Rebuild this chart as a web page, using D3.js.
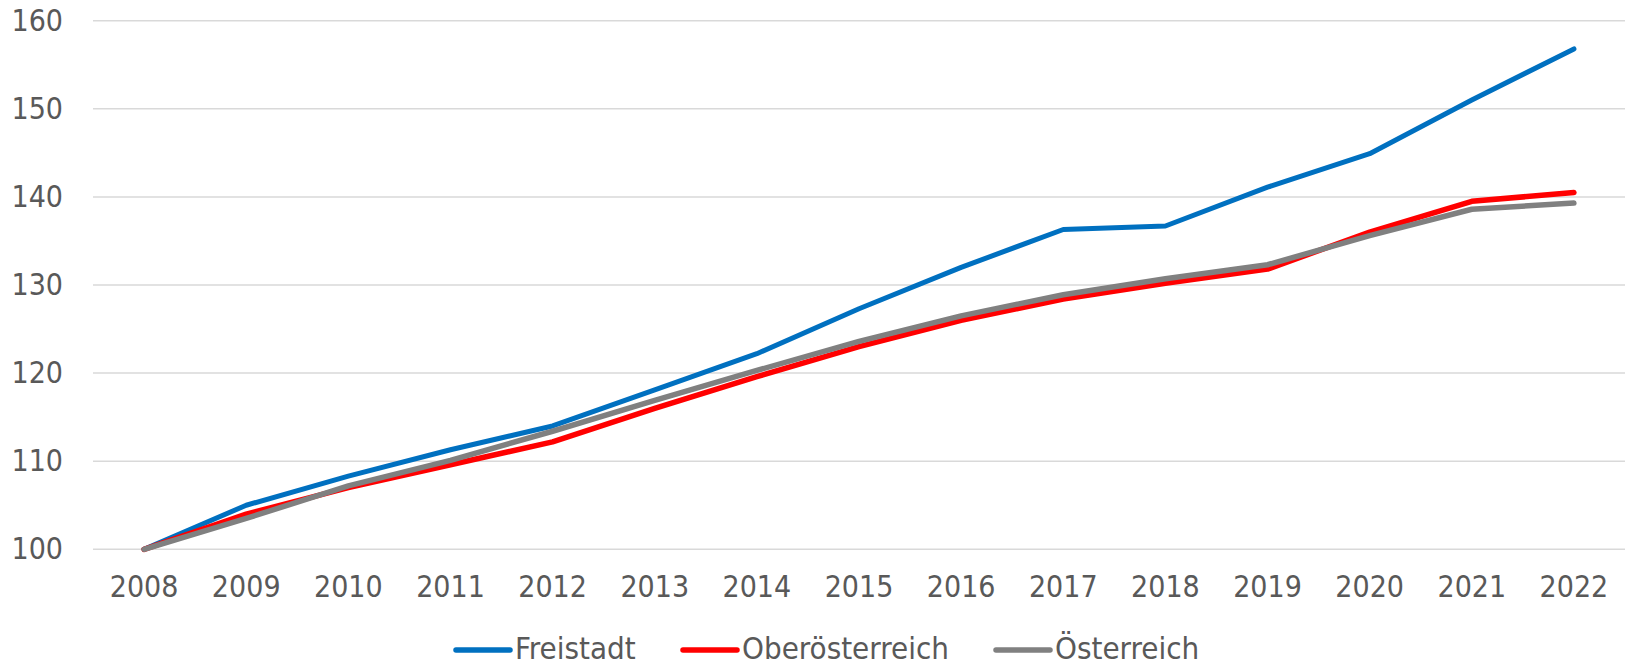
<!DOCTYPE html>
<html>
<head>
<meta charset="utf-8">
<script src="https://cdn.jsdelivr.net/npm/d3@7"></script>
<style>
  body { margin: 0; background: #fff; }
  text { font-family: "DejaVu Sans Condensed", "DejaVu Sans", sans-serif; fill: #595959; }
</style>
</head>
<body>
<div id="plot1"></div>
<script>
// chart data
var years = ['2008','2009','2010','2011','2012','2013','2014','2015','2016','2017','2018','2019','2020','2021','2022'];
var freistadt = [100, 105.0, 108.3, 111.3, 114.0, 118.1, 122.2, 127.3, 132.0, 136.3, 136.7, 141.1, 144.9, 151.0, 156.8];
var oberoesterreich = [100, 104.0, 107.0, 109.6, 112.2, 116.0, 119.6, 123.0, 126.0, 128.4, 130.2, 131.8, 136.0, 139.5, 140.5];
var oesterreich = [100, 103.5, 107.2, 110.1, 113.4, 116.9, 120.3, 123.6, 126.5, 128.9, 130.7, 132.3, 135.6, 138.6, 139.3];
var seriesNames = ['Freistadt', 'Oberösterreich', 'Österreich'];
var seriesColors = ['#0070C0', '#FF0000', '#808080'];
var yTicks = [100, 110, 120, 130, 140, 150, 160];

var width1 = 1626;
var height1 = 666;

// plot area edges (window.top is reserved, so no plain "top")
var plotLeft = 93, plotRight = 1625;
var plotTop = 20.7, plotBottom = 549.3;

var svg = d3.select('#plot1')
	.append('svg')
	.attr('width', width1)
	.attr('height', height1);

var x = d3.scaleBand().domain(years).range([plotLeft, plotRight]);
var y = d3.scaleLinear().domain([100, 160]).range([plotBottom, plotTop]);

// horizontal gridlines
svg.append('g')
	.selectAll('line')
	.data(yTicks)
	.enter()
	.append('line')
	.attr('x1', plotLeft)
	.attr('x2', plotRight)
	.attr('y1', function(d){ return y(d); })
	.attr('y2', function(d){ return y(d); })
	.attr('stroke', '#D9D9D9')
	.attr('stroke-width', 1.5);

// y axis labels
var yAxis = svg.append('g')
	.attr('transform', 'translate(' + (plotLeft - 30) + ',0)')
	.call(d3.axisLeft(y).tickValues(yTicks).tickSize(0).tickPadding(0));
yAxis.select('.domain').remove();
yAxis.selectAll('text')
	.style('font-size', '30px')
	.attr('fill', '#595959')
	.attr('font-family', null);

// x axis labels
var xAxis = svg.append('g')
	.attr('transform', 'translate(0,' + plotBottom + ')')
	.call(d3.axisBottom(x).tickSize(0).tickPadding(0));
xAxis.select('.domain').remove();
xAxis.selectAll('text')
	.attr('dy', null)
	.attr('y', 39.5)
	.attr('dominant-baseline', 'middle')
	.style('font-size', '30px')
	.attr('fill', '#595959')
	.attr('font-family', null);

// the three lines
var allSeries = [freistadt, oberoesterreich, oesterreich];
var line = d3.line()
	.x(function(d, i){ return x(years[i]) + x.bandwidth() / 2; })
	.y(function(d){ return y(d); });

svg.append('g')
	.selectAll('path')
	.data(allSeries)
	.enter()
	.append('path')
	.attr('d', line)
	.attr('fill', 'none')
	.attr('stroke', function(d, i){ return seriesColors[i]; })
	.attr('stroke-width', function(d, i){ return i == 0 ? 5 : 5.5; })
	.attr('stroke-linecap', 'round')
	.attr('stroke-linejoin', 'round');

// legend
var legendX = [456, 683, 996];
var legendY = 650;
var legend = svg.append('g')
	.selectAll('g')
	.data(seriesNames)
	.enter()
	.append('g')
	.attr('transform', function(d, i){ return 'translate(' + legendX[i] + ',' + legendY + ')'; });

legend.append('line')
	.attr('x1', 0)
	.attr('x2', 54)
	.attr('stroke', function(d, i){ return seriesColors[i]; })
	.attr('stroke-width', 5.5)
	.attr('stroke-linecap', 'round');

legend.append('text')
	.attr('x', 59)
	.attr('dominant-baseline', 'middle')
	.style('font-size', '31px')
	.text(function(d){ return d; });
</script>
</body>
</html>
